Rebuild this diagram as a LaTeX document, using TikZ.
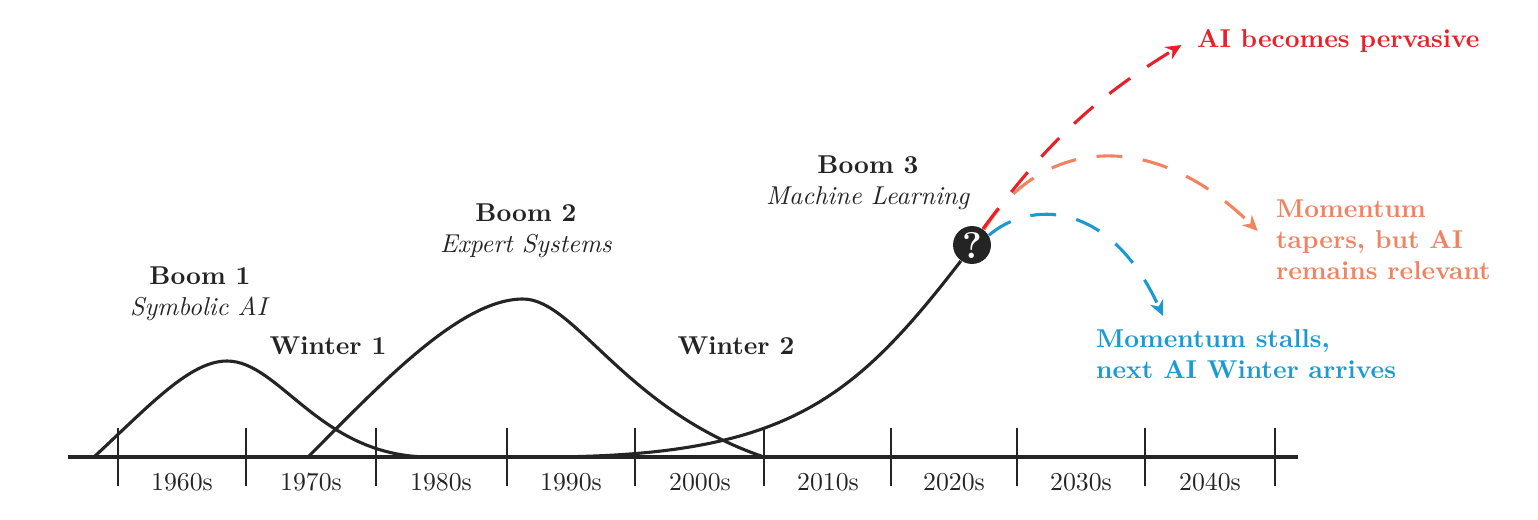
\documentclass[tikz,border=0pt]{standalone}
\usepackage{tikz}
\usetikzlibrary{positioning,arrows.meta}

\definecolor{inkgray}{HTML}{242424}
\definecolor{pervred}{HTML}{E8202A}
\definecolor{taperorange}{HTML}{F08462}
\definecolor{stallblue}{HTML}{1B9AD2}

\begin{document}
\begin{tikzpicture}[x=0.3875pt, y=-0.3875pt,
    wave/.style={draw=inkgray, line width=1.2pt},
    future/.style={line width=1.2pt, dash pattern=on 10pt off 8pt, -{Stealth[length=6pt,width=5.5pt]}},
    era/.style={text=inkgray, align=center},
    outcome/.style={font=\bfseries, align=left, anchor=west}]

    \useasboundingbox (0,0) rectangle (1538,519);

    % Draw the time axis
    \draw[inkgray, line width=1.4pt] (68,457) -- (1298,457);
    \foreach \x in {118,246,376,507,635,764,891,1017,1145,1275}
        \draw[inkgray, line width=0.8pt] (\x,428) -- (\x,486);

    % Decade labels
    \foreach \x/\d in {182/1960s,311/1970s,441/1980s,571/1990s,700/2000s,828/2010s,954/2020s,1081/2030s,1210/2040s}
        \node[text=inkgray] (dec\d) at (\x,482) {\d};

    % Draw the question mark
    \node[circle, fill=inkgray, minimum size=14.7pt, inner sep=0pt, text=white, font=\bfseries\Large] (q) at (972,245) {?};

    % Draw the booms
    \draw[wave] (94,457) .. controls (150,405) and (190,361) .. (227,361)
        .. controls (280,361) and (320,457) .. (430,457);
    \draw[wave] (308,457) .. controls (380,385) and (460,299) .. (523,299)
        .. controls (575,299) and (625,410) .. (764,457);
    \draw[wave] (547,457) .. controls (785,456) and (852,402) .. (q.235);

    % Labels
    \node[era] (boom1) at (200,294) {\textbf{Boom 1}\\\textit{Symbolic AI}};
    \node[era, font=\bfseries] (winter1) at (328,346) {Winter 1};
    \node[era] (boom2) at (526,231) {\textbf{Boom 2}\\\textit{Expert Systems}};
    \node[era, font=\bfseries] (winter2) at (736,346) {Winter 2};
    \node[era] (boom3) at (868,183) {\textbf{Boom 3}\\\textit{Machine Learning}};

    % Outcomes
    \node[outcome, text=pervred] (pervasive) at (1188,41) {AI becomes pervasive};
    \node[outcome, text=taperorange] (taper) at (1267,240) {Momentum\\tapers, but AI\\remains relevant};
    \node[outcome, text=stallblue] (stall) at (1087,354) {Momentum stalls,\\next AI Winter arrives};
    \coordinate (stalltip) at (1163,316);

    % Draw the dashed arrows
    \draw[future, taperorange, shorten >=5pt] (q.52) .. controls (1040,140) and (1150,125) .. (taper.west);
    \draw[future, pervred, shorten >=3pt] (q.56) to[bend left=11] (pervasive.west);
    \draw[future, stallblue] (q.30) .. controls (1030,200) and (1110,200) .. (stalltip);
\end{tikzpicture}
\end{document}
